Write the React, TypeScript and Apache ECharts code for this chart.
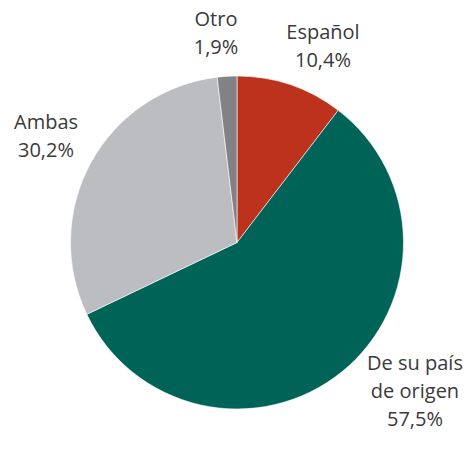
import React, { useEffect, useRef } from "react";
import * as echarts from "echarts";

const categories = ["Español", "De su país\nde origen", "Ambas", "Otro"];
const values = [10.4, 57.5, 30.2, 1.9];
const colors = ["#BD321D", "#006357", "#BCBDC0", "#818285"];
const labelPos: [number, number][] = [
  [323, 45],
  [415, 390],
  [46, 135],
  [216, 32],
];

export default function App() {
  const ref = useRef<HTMLDivElement>(null);
  useEffect(() => {
    if (!ref.current) return;
    const chart = echarts.init(ref.current, null, { renderer: "svg" });
    chart.setOption({
      animation: false,
      backgroundColor: "#ffffff",
      series: [
        {
          type: "pie",
          center: [237, 242.5],
          radius: [0, 166.5],
          startAngle: 90,
          clockwise: true,
          avoidLabelOverlap: false,
          data: categories.map((c, i) => ({
            name: c,
            value: values[i],
            itemStyle: { color: colors[i] },
          })),
          itemStyle: { borderColor: "#ffffff", borderWidth: 0.6 },
          label: {
            show: true,
            position: "outside",
            formatter: (p: any) =>
              p.name + "\n" + Number(p.value).toFixed(1).replace(".", ",") + "%",
            fontFamily: "Open Sans",
            fontSize: 20,
            lineHeight: 28,
            color: "#3a3a3a",
            align: "center",
          },
          labelLine: { show: false },
          labelLayout: (params: any) => {
            const pos = labelPos[params.dataIndex];
            return {
              x: pos[0],
              y: pos[1],
              align: "center",
              verticalAlign: "middle",
            };
          },
          emphasis: { disabled: true },
        },
      ],
    });
    return () => chart.dispose();
  }, []);
  return (
    <div
      ref={ref}
      style={{ position: "fixed", left: 0, top: 0, width: 472, height: 452 }}
    />
  );
}
